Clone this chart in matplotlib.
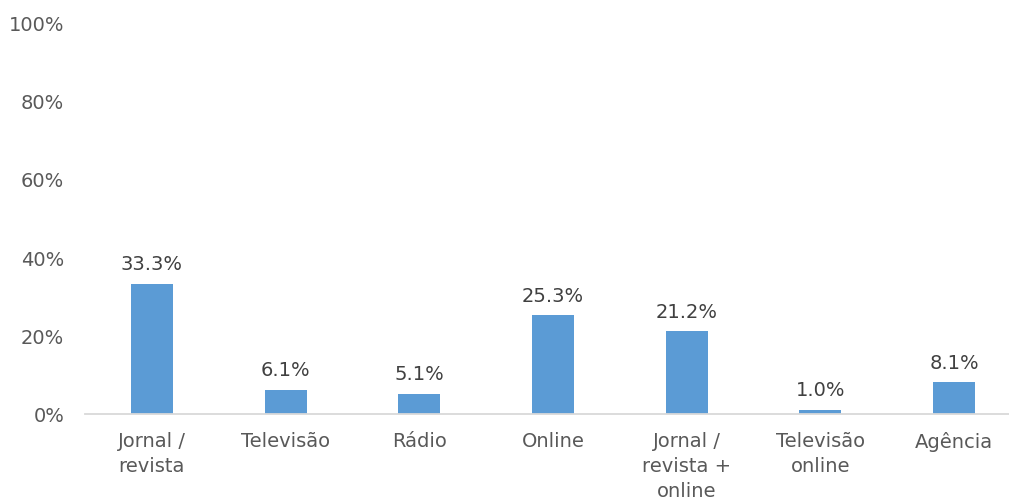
import numpy as np
import matplotlib
matplotlib.use("Agg")
import matplotlib.pyplot as plt
from matplotlib.ticker import FuncFormatter

categorias = ["Jornal /\nrevista", "Televisão", "Rádio", "Online",
              "Jornal /\nrevista +\nonline", "Televisão\nonline", "Agência"]
valores = [33.3, 6.1, 5.1, 25.3, 21.2, 1.0, 8.1]
rotulos = ["33.3%", "6.1%", "5.1%", "25.3%", "21.2%", "1.0%", "8.1%"]
yticks = [0, 20, 40, 60, 80, 100]

plt.rcParams['font.family'] = ['DejaVu Sans']

fig = plt.figure(figsize=(10.09, 5.03), dpi=100)
ax = fig.add_axes([85/1009, 89/503, 936/1009, 390/503])

x = np.arange(len(categorias))
barras = ax.bar(x, valores, width=0.315, color='#5B9BD5')

for b, txt in zip(barras, rotulos):
    ax.annotate(txt, (b.get_x() + b.get_width()/2, b.get_height()),
                xytext=(0, 7), textcoords='offset points',
                ha='center', va='bottom', fontsize=14, color='#404040')

ax.set_xlim(-0.5, len(categorias) - 0.5)
ax.set_ylim(0, 100)
ax.set_yticks(yticks)
ax.yaxis.set_major_formatter(FuncFormatter(lambda v, p: f"{v:.0f}%"))
ax.set_xticks(x)
ax.set_xticklabels(categorias, linespacing=1.4)

for s in ['top', 'right', 'left']:
    ax.spines[s].set_visible(False)
ax.spines['bottom'].set_color('#D9D9D9')
ax.spines['bottom'].set_linewidth(1.3)

ax.tick_params(axis='y', length=0, pad=15, labelsize=14, labelcolor='#595959')
ax.tick_params(axis='x', length=0, pad=13, labelsize=14, labelcolor='#595959')

plt.savefig("out.png", dpi=100)
